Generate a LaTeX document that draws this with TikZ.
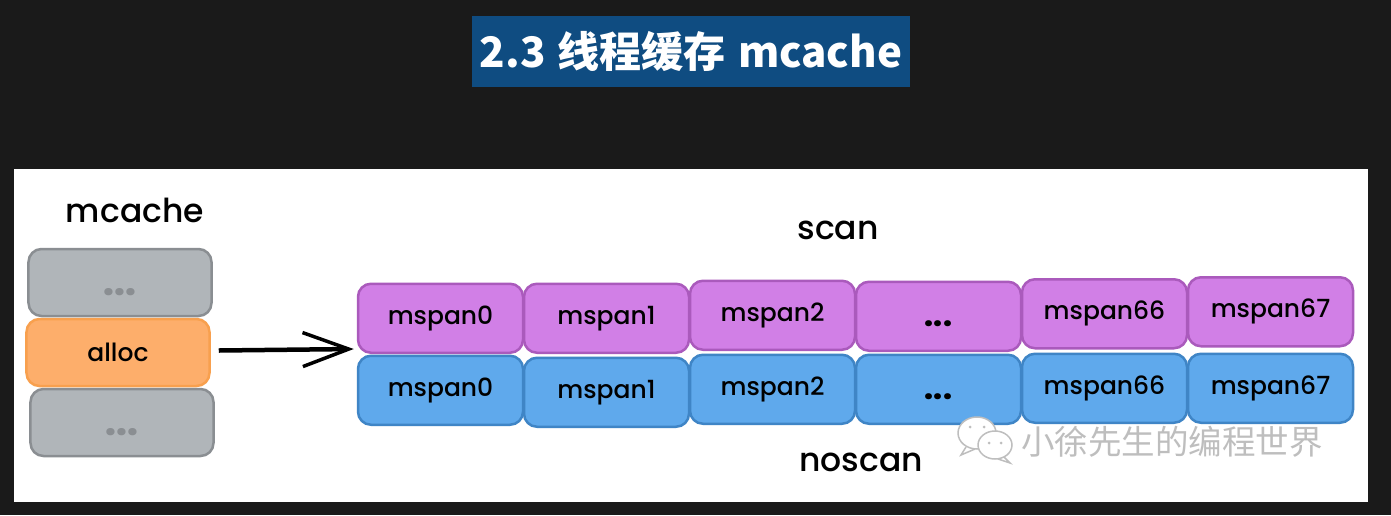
\documentclass[tikz,border=0pt]{standalone}
\usepackage{fontspec}
\usetikzlibrary{positioning}
\usetikzlibrary{matrix}
\usetikzlibrary{arrows.meta}
\setmainfont{Poppins Medium}
\newfontfamily\cjk{Noto Sans CJK SC}
\definecolor{pagedark}{HTML}{1A1A1A}
\definecolor{titleblue}{HTML}{0F4C81}
\definecolor{purplefill}{HTML}{D17FE6}
\definecolor{purpleline}{HTML}{AA5ABC}
\definecolor{bluefill}{HTML}{5FA9EC}
\definecolor{blueline}{HTML}{3F85C6}
\definecolor{orangefill}{HTML}{FDAE6B}
\definecolor{orangeline}{HTML}{F8A04E}
\definecolor{greyfill}{HTML}{B0B5B9}
\definecolor{greyline}{HTML}{8A8E92}
\definecolor{markgrey}{HTML}{BEBEBE}
\tikzset{
        span box/.style={
          draw, line width=2.5pt, rounded corners=13pt, anchor=center,
          inner sep=0pt, text=black
          },
        purple box/.style={fill=purplefill, draw=purpleline},
        blue box/.style={fill=bluefill, draw=blueline},
        grey box/.style={fill=greyfill, draw=greyline, text=greyline, text height=26pt, text depth=0pt, font=\fontsize{36}{36}\selectfont\bfseries},
        orange box/.style={fill=orangefill, draw=orangeline},
        dots cell/.style={text height=20pt, text depth=0pt, font=\fontsize{30}{30}\selectfont\bfseries},
        span board/.style={
          matrix of nodes,
          row sep={72pt, between origins},
          column sep={166pt, between origins},
          nodes={span box, minimum width=165pt, minimum height=69pt, font=\fontsize{25}{25}\selectfont},
          row 1/.style={nodes={purple box}},
          row 2/.style={nodes={blue box}},
          },
        stack board/.style={
          matrix of nodes,
          row sep={70pt, between origins},
          nodes={span box, minimum width=183pt, minimum height=67pt, font=\fontsize{25}{25}\selectfont},
          row 1/.style={nodes={grey box}},
          row 2/.style={nodes={orange box}},
          row 3/.style={nodes={grey box}},
          },
        hand label/.style={font=\fontsize{33}{33}\selectfont, text=black},
        hand arrow/.style={line width=4.5pt, -{Straight Barb[length=46pt, width=34pt, line width=3.5pt]}},
        bubble/.style={fill=white, draw=markgrey, line width=1.5pt},
}
\begin{document}
\begin{tikzpicture}[x=1pt,y=-1pt]
      \useasboundingbox (0,0) rectangle (1391,515);
      \fill[pagedark] (0,0) rectangle (1391,515);
      % title
      \node[fill=titleblue, text=white, minimum width=438pt, minimum height=71pt, inner sep=0pt,
        font=\cjk\bfseries\fontsize{42}{42}\selectfont] (title) at (691,51.5) {2.3\hspace{2.5pt} 线程缓存\hspace{2.5pt} mcache};
      % white sheet
      \path[fill=white] (14,169) rectangle (1368,502);

      % MCACHE
      \matrix[stack board] (stack) at (120,352.5) {
        |[xshift=0pt]| ... \\
        |[xshift=-2pt]| alloc \\
        |[xshift=2pt]| ... \\
        };
      \node[hand label] (mcachelabel) at (135,210) {mcache};

      % SPANS
      \matrix[span board] (spans) at (855.5,352) {
        |[yshift=-2pt]| mspan0 & |[yshift=-2pt]| mspan1 & |[yshift=1pt]| mspan2 & |[dots cell]| ... & |[yshift=2.5pt]| mspan66 & |[yshift=4.5pt]| mspan67 \\
        |[yshift=-2pt]| mspan0 & |[yshift=-4pt]| mspan1 & |[yshift=-1pt]| mspan2 & |[dots cell, yshift=-1pt]| ... & mspan66 & mspan67 \\
        };
      \node[hand label] (scanlabel) at (838,230) {scan};
      \node[hand label] (noscanlabel) at (861,462) {noscan};

      % WIRING
      \coordinate (arrowstart) at ([xshift=8pt,yshift=2pt]stack-2-1.east);
      \draw[hand arrow] (arrowstart) -- ([xshift=-3pt,yshift=5pt]spans-1-1.south west);

      % watermark
      \draw[bubble] (966,447) -- (961,455) -- (975,449);
      \draw[bubble] (977,433) ellipse (19 and 16);
      \draw[bubble] (1003,456) -- (1010,463) -- (998,459);
      \draw[bubble] (995,445) ellipse (17 and 14);
      \fill[markgrey] (970,427) circle (1.5) (984,427) circle (1.5) (989,443) circle (1.5) (1001,443) circle (1.5);
      \node[text=markgrey, font=\cjk\fontsize{33.5}{33.5}\selectfont, inner sep=0pt] (watermark) at (1172,442) {小徐先生的编程世界};
\end{tikzpicture}
\end{document}
